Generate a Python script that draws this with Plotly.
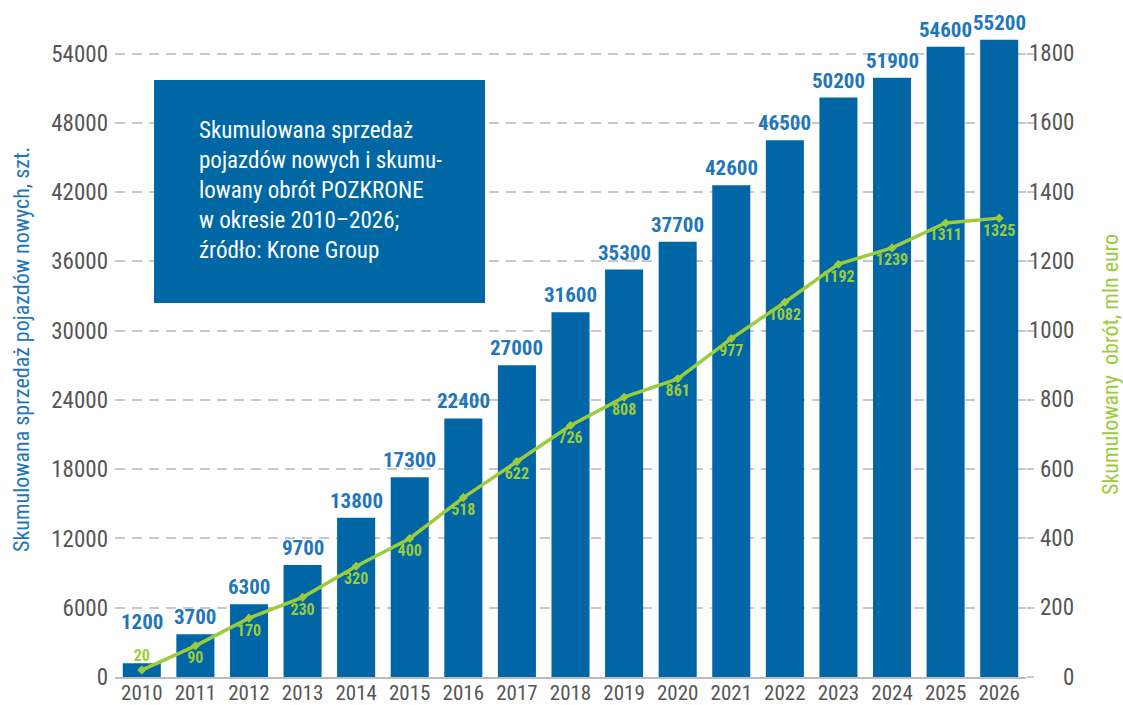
import plotly.graph_objects as go

years = [str(y) for y in range(2010, 2027)]
sales = [1200, 3700, 6300, 9700, 13800, 17300, 22400, 27000, 31600, 35300,
         37700, 42600, 46500, 50200, 51900, 54600, 55200]
turnover = [20, 90, 170, 230, 320, 400, 518, 622, 726, 808, 861, 977, 1082,
            1192, 1239, 1311, 1325]
left_ticks = [0, 6000, 12000, 18000, 24000, 30000, 36000, 42000, 48000, 54000]
right_ticks = [0, 200, 400, 600, 800, 1000, 1200, 1400, 1600, 1800]

FONT = "Liberation Sans Narrow, Roboto Condensed, Roboto, sans-serif"
BLUE = "#0066a6"
LBLUE = "#1f76ba"
GREEN = "#9ccc3c"
GREY = "#555555"

L, R, T, B = 115, 97, 19, 28
PW = 1123 - L - R
PH = 705 - T - B


def px_x(x):
    return (x - L) / PW


def px_y(y):
    return (705 - B - y) / PH


fig = go.Figure()
fig.add_trace(go.Bar(
    x=years, y=sales, marker=dict(color=BLUE, line=dict(width=0)),
    yaxis="y", showlegend=False,
))
fig.add_trace(go.Scatter(
    x=years, y=turnover, yaxis="y2", mode="lines+markers+text",
    line=dict(color=GREEN, width=3.5),
    marker=dict(color=GREEN, size=7, symbol="diamond"),
    text=[str(v) for v in turnover],
    textposition=["top center"] + ["bottom center"] * 16,
    textfont=dict(family=FONT, size=16, color=GREEN, weight="bold"),
    cliponaxis=False, showlegend=False,
))

# bar value labels (x given as category index)
for i, v in enumerate(sales):
    fig.add_annotation(
        x=i, y=v, xref="x", yref="y", yanchor="bottom", showarrow=False,
        yshift=27 if i == 0 else 3, text=str(v),
        font=dict(family=FONT, size=21, color=LBLUE, weight="bold"),
    )

# right axis labels (right-aligned)
for v in right_ticks:
    fig.add_annotation(
        x=px_x(1076), y=v, xref="paper", yref="y2", xanchor="right",
        yanchor="middle", showarrow=False, text=str(v),
        font=dict(family=FONT, size=23, color=GREY),
    )

fig.update_layout(
    width=1123, height=705,
    margin=dict(l=L, r=R, t=T, b=B, autoexpand=False),
    plot_bgcolor="white", paper_bgcolor="white",
    bargap=0.29,
    font=dict(family=FONT, color=GREY),
    xaxis=dict(
        type="category", range=[-0.5, len(years) - 0.5],
        showline=True, linecolor="#bbbbbb", linewidth=1.5,
        ticks="", showgrid=False, automargin=False, ticklabelstandoff=-4,
        tickfont=dict(family=FONT, size=21, color=GREY),
    ),
    yaxis=dict(
        range=[0, 57000], tickvals=left_ticks,
        ticktext=[str(v) for v in left_ticks],
        showgrid=True, gridcolor="#c8c8c8", griddash="10px,7px", gridwidth=1.5,
        zeroline=False, ticks="", automargin=False, ticklabelstandoff=6,
        tickfont=dict(family=FONT, size=23, color=GREY),
    ),
    yaxis2=dict(
        range=[0, 1900], overlaying="y", side="right",
        tickvals=right_ticks, showticklabels=False,
        showgrid=False, zeroline=False, automargin=False,
        ticks="outside", ticklen=7, tickcolor="#c8c8c8", tickwidth=1.5,
    ),
)

fig.add_annotation(
    xref="paper", yref="paper", x=px_x(21), y=px_y(350), textangle=-90,
    xanchor="center", yanchor="middle", showarrow=False,
    text="Skumulowana sprzedaż pojazdów nowych, szt.",
    font=dict(family=FONT, size=22, color=LBLUE),
)
fig.add_annotation(
    xref="paper", yref="paper", x=px_x(1110), y=px_y(365), textangle=-90,
    xanchor="center", yanchor="middle", showarrow=False,
    text="Skumulowany  obrót, mln euro",
    font=dict(family=FONT, size=22, color=GREEN),
)

fig.add_shape(type="rect", xref="paper", yref="paper",
              x0=px_x(154), x1=px_x(485), y0=px_y(303), y1=px_y(80),
              fillcolor="#0067a5", line=dict(width=0), layer="above")
fig.add_annotation(
    xref="paper", yref="paper", x=px_x(197), y=px_y(190),
    xanchor="left", yanchor="middle", align="left", showarrow=False,
    text=("Skumulowana sprzedaż<br>pojazdów nowych i skumu-<br>"
          "lowany obrót POZKRONE<br>w okresie 2010–2026;<br>"
          "źródło: Krone Group"),
    font=dict(family=FONT, size=23, color="white"),
)

fig.write_html("out.html")
